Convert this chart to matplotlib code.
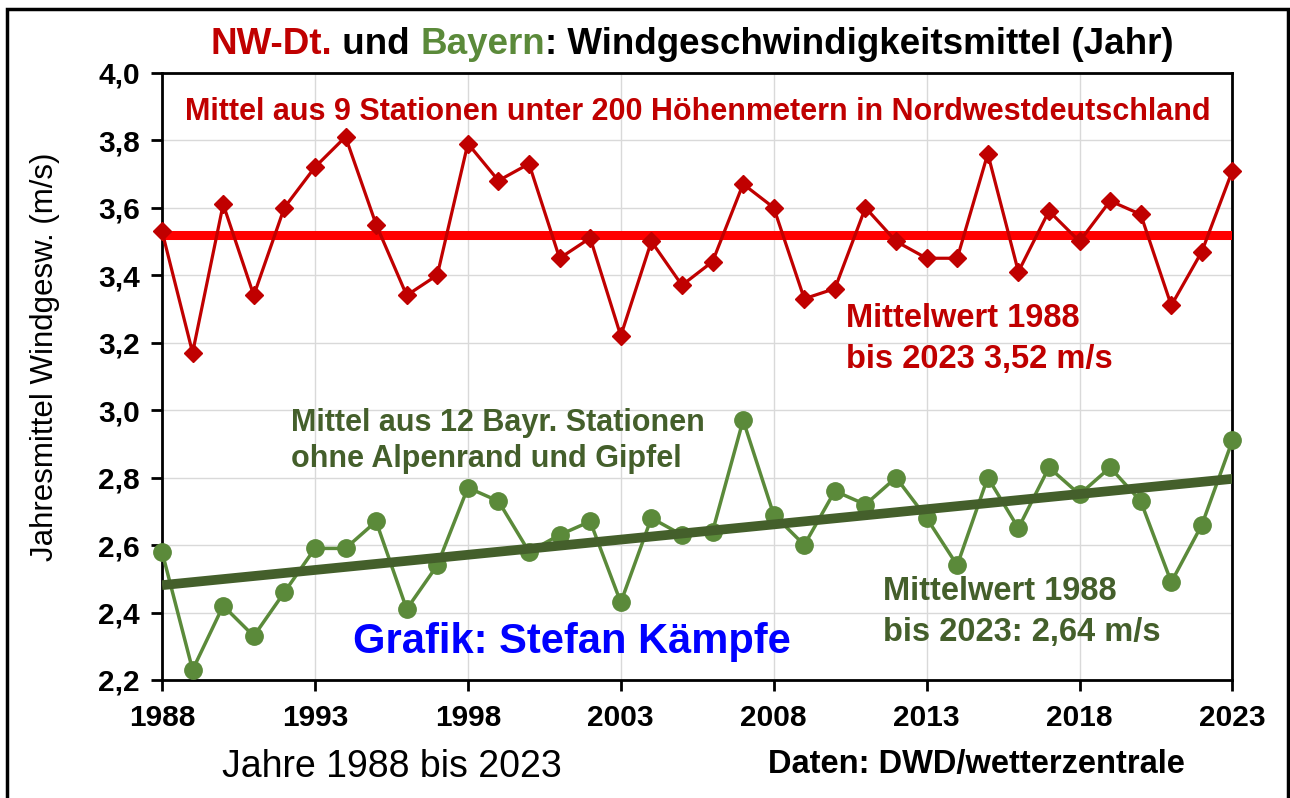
import numpy as np
import matplotlib.pyplot as plt
from matplotlib.patches import Rectangle

# yearly means
years = list(range(1988, 2024))
nw_dt = [3.53, 3.17, 3.61, 3.34, 3.60, 3.72, 3.81, 3.55, 3.34, 3.40,
         3.79, 3.68, 3.73, 3.45, 3.51, 3.22, 3.50, 3.37, 3.44, 3.67,
         3.60, 3.33, 3.36, 3.60, 3.50, 3.45, 3.45, 3.76, 3.41, 3.59,
         3.50, 3.62, 3.58, 3.31, 3.47, 3.71]
bayern = [2.58, 2.23, 2.42, 2.33, 2.46, 2.59, 2.59, 2.67, 2.41, 2.54,
          2.77, 2.73, 2.58, 2.63, 2.67, 2.43, 2.68, 2.63, 2.64, 2.97,
          2.69, 2.60, 2.76, 2.72, 2.80, 2.68, 2.54, 2.80, 2.65, 2.83,
          2.75, 2.83, 2.73, 2.49, 2.66, 2.91]
x_ticks = [1988, 1993, 1998, 2003, 2008, 2013, 2018, 2023]
y_ticks = [2.2, 2.4, 2.6, 2.8, 3.0, 3.2, 3.4, 3.6, 3.8, 4.0]
y_labels = ['2,2', '2,4', '2,6', '2,8', '3,0', '3,2', '3,4', '3,6', '3,8', '4,0']

red = '#C00000'
green = '#5B8A3A'
dgreen = '#445F2B'
plt.rcParams['font.family'] = ['Liberation Sans', 'DejaVu Sans']

fig = plt.figure(figsize=(12.9, 7.98), dpi=100)
ax = fig.add_axes([0.1256, 0.1479, 0.8298, 0.7610])

# NW-Dt. series and its mean
ax.plot(years, nw_dt, color=red, lw=2.3, marker='D', ms=9.5, clip_on=False, zorder=4)
ax.axhline(np.mean(nw_dt), color='#FF0000', lw=6.5, zorder=3)

# Bayern series and linear trend
ax.plot(years, bayern, color=green, lw=2.5, marker='o', ms=12.5, clip_on=False, zorder=4)
k, d = np.polyfit(years, bayern, 1)
ax.plot([years[0], years[-1]], [k * years[0] + d, k * years[-1] + d], color=dgreen, lw=7, zorder=5,
        solid_capstyle='butt')

ax.set_xlim(1988, 2023)
ax.set_ylim(2.2, 4.0)
ax.set_xticks(x_ticks)
ax.set_yticks(y_ticks)
ax.set_yticklabels(y_labels)
ax.grid(True, color='#D9D9D9', lw=1)
ax.set_axisbelow(True)
for s in ax.spines.values():
    s.set_linewidth(2)
ax.tick_params(length=8, width=2, direction='out')
ax.tick_params(axis='x', pad=9)
ax.tick_params(axis='y', pad=8)
for t in ax.get_xticklabels() + ax.get_yticklabels():
    t.set_fontsize(21.5)
    t.set_fontweight('bold')
fig.text(45 / 1290, 1 - 357 / 798, 'Jahresmittel Windgesw. (m/s)', fontsize=22.5, rotation=90,
         ha='center', va='center')

# title in three colours
parts = [('NW-Dt.', red), (' und ', 'black'), ('Bayern', green), (': Windgeschwindigkeitsmittel (Jahr)', 'black')]
r = fig.canvas.get_renderer()
widths = []
for s, c in parts:
    t = fig.text(0, 0, s, fontsize=26.5, fontweight='bold')
    widths.append(t.get_window_extent(r).width)
    t.remove()
x0 = 692 - sum(widths) / 2
for (s, c), w in zip(parts, widths):
    fig.text(x0 / 1290, 1 - 45 / 798, s, fontsize=26.5, fontweight='bold', color=c, va='center')
    x0 += w

fig.text(185 / 1290, 1 - 112 / 798, 'Mittel aus 9 Stationen unter 200 Höhenmetern in Nordwestdeutschland',
         fontsize=22, fontweight='bold', color=red, va='center')
fig.text(846 / 1290, 1 - 339 / 798, 'Mittelwert 1988\nbis 2023 3,52 m/s', fontsize=23.5,
         fontweight='bold', color=red, va='center', linespacing=1.4)
fig.text(291 / 1290, 1 - 441 / 798, 'Mittel aus 12 Bayr. Stationen\nohne Alpenrand und Gipfel',
         fontsize=22, fontweight='bold', color=dgreen, va='center', linespacing=1.3)
fig.text(883 / 1290, 1 - 612 / 798, 'Mittelwert 1988\nbis 2023: 2,64 m/s', fontsize=23.5,
         fontweight='bold', color=dgreen, va='center', linespacing=1.4)
fig.text(353 / 1290, 1 - 642 / 798, 'Grafik: Stefan Kämpfe', fontsize=30, fontweight='bold',
         color='#0000FF', va='center')
fig.text(222 / 1290, 1 - 767 / 798, 'Jahre 1988 bis 2023', fontsize=27, va='center')
fig.text(768 / 1290, 1 - 764 / 798, 'Daten: DWD/wetterzentrale', fontsize=23.5, fontweight='bold',
         va='center')

# frame round the whole picture
fig.patches.append(Rectangle((7 / 1290, -0.01), 1281 / 1290, 1 - 9 / 798 + 0.01, transform=fig.transFigure,
                             fill=False, edgecolor='black', lw=2.5))

fig.savefig('out.png', dpi=100)
